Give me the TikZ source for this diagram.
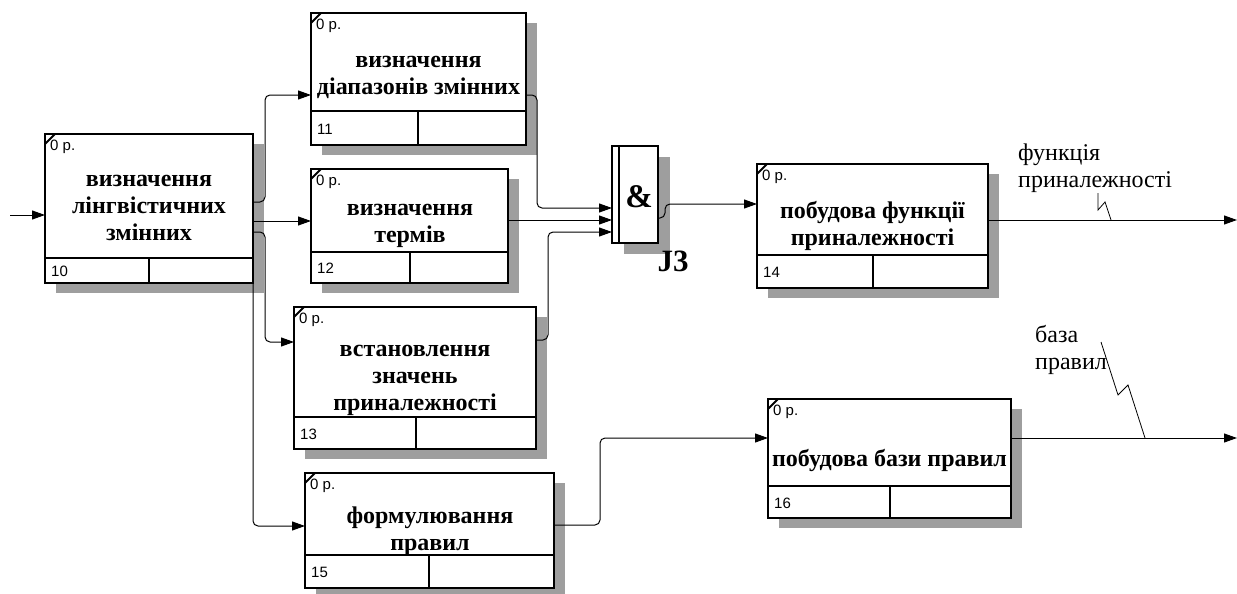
\documentclass[tikz,border=0pt]{standalone}
\usepackage{fontspec}
\setmainfont{Liberation Serif}
\newfontfamily\sansf{Liberation Sans}
\usetikzlibrary{arrows.meta}
\tikzset{
  boxst/.style={draw, line width=2.2pt, fill=white, inner sep=0pt, outer sep=0pt},
  boxline/.style={line width=2.2pt},
  shadest/.style={fill=black!38},
  conn/.style={line width=1pt, rounded corners=5pt},
  arr/.style={-{Triangle[length=13pt,width=9pt]}},
  ttl/.style={font=\fontsize{24}{27}\selectfont\bfseries, align=center, inner sep=0pt},
  small/.style={font=\sansf\fontsize{15}{15}\selectfont, inner sep=0pt, anchor=west},
  lbl/.style={font=\fontsize{24}{27}\selectfont, align=left, inner sep=0pt, anchor=west},
  squig/.style={line width=0.8pt}
}
% #1 name, #2 x1, #3 y1, #4 x2, #5 y2, #6 row, #7 divider, #8 number
\newcommand\idefbox[8]{%
  \fill[shadest] (#2+11,#3+10) rectangle (#4+11,#5+10);
  \node[boxst, anchor=north west, minimum width=#4-#2, minimum height=#5-#3] (#1) at (#2,#3) {};
  \draw[boxline] (#2,#6) -- (#4,#6);
  \draw[boxline] (#7,#6) -- (#7,#5);
  \draw[line width=1.8pt] (#2,#3+10) -- (#2+10,#3);
  \node[small] (#1-p) at (#2+5,#3+13) {0 р.};
  \node[small] (#1-n) at (#2+6,{(#6+#5)/2+1}) {#8};
}
\begin{document}
\begin{tikzpicture}[x=1pt,y=-1pt]
\useasboundingbox (0,0) rectangle (1237,594);

\idefbox{b10}{45}{134}{253}{283}{258}{149}{10}
\idefbox{b11}{311}{13}{526}{145}{111}{418}{11}
\idefbox{b12}{311}{169}{508}{283}{252}{410}{12}
\idefbox{b13}{294}{307}{536}{449}{417}{416}{13}
\idefbox{b14}{757}{164}{988}{288}{255}{873}{14}
\idefbox{b15}{305}{473}{554}{588}{555}{429}{15}
\idefbox{b16}{768}{399}{1011}{518}{486}{890}{16}

% junction J3
\fill[shadest] (624,157) rectangle (670,254);
\node[boxst, anchor=north west, minimum width=46, minimum height=97] (j3) at (612,146) {};
\draw[boxline] (619,146) -- (619,243);
\node[font=\fontsize{33}{33}\selectfont\bfseries, inner sep=0pt] (amp) at (639,197) {\&};
\node[font=\fontsize{31}{31}\selectfont\bfseries, inner sep=0pt] (j3l) at (673,261) {J3};

% titles
\node[ttl] (t10) at (149,208) {визначення\\лінгвістичних\\змінних};
\node[ttl] (t11) at (418.5,77) {визначення\\діапазонів змінних};
\node[ttl] (t12) at (410,226) {визначення\\термів};
\node[ttl] (t13) at (415,380) {встановлення\\значень\\приналежності};
\node[ttl] (t14) at (872.5,226) {побудова функції\\приналежності};
\node[ttl] (t15) at (430,531) {формулювання\\правил};
\node[ttl] (t16) at (889.5,460) {побудова бази правил};

% connectors
\coordinate (in10) at (10,215);
\draw[conn,arr] (in10) -- (in10 -| b10.west);
\draw[conn,arr] (b10.east |- 0,202) -- (265,202) -- (265,95) -- (b11.west |- 0,95);
\draw[conn,arr] (b10.east |- 0,221) -- (b12.west |- 0,221);
\draw[conn,arr] (b10.east |- 0,232) -- (265,232) -- (265,342) -- (b13.west |- 0,342);
\draw[conn,arr] (b10.south east) -- (253,526) -- (b15.west |- 0,526);
\draw[conn,arr] (b11.east |- 0,95) -- (537,95) -- (537,208) -- (j3.west |- 0,208);
\draw[conn,arr] (b12.east |- 0,220) -- (j3.west |- 0,220);
\draw[conn,arr] (b13.east |- 0,340) -- (548,340) -- (548,232) -- (j3.west |- 0,232);
\draw[conn,arr] (j3.east |- 0,218) -- (665,218) -- (665,204) -- (b14.west |- 0,204);
\coordinate (out14) at (1237,220);
\draw[conn,arr] (b14.east |- out14) -- (out14);
\draw[conn,arr] (b15.east |- 0,525) -- (600,525) -- (600,438) -- (b16.west |- 0,438);
\coordinate (out16) at (1237,438);
\draw[conn,arr] (b16.east |- out16) -- (out16);

% labels
\node[lbl] (l1) at (1018,168) {функція\\приналежності};
\node[lbl] (l2) at (1035,350) {база\\правил};
\draw[squig] (1098,193) -- (1098,210) -- (1105,202) -- (1111,220);
\draw[squig] (1101,342) -- (1118,395) -- (1128,385) -- (1145,438);
\end{tikzpicture}
\end{document}
